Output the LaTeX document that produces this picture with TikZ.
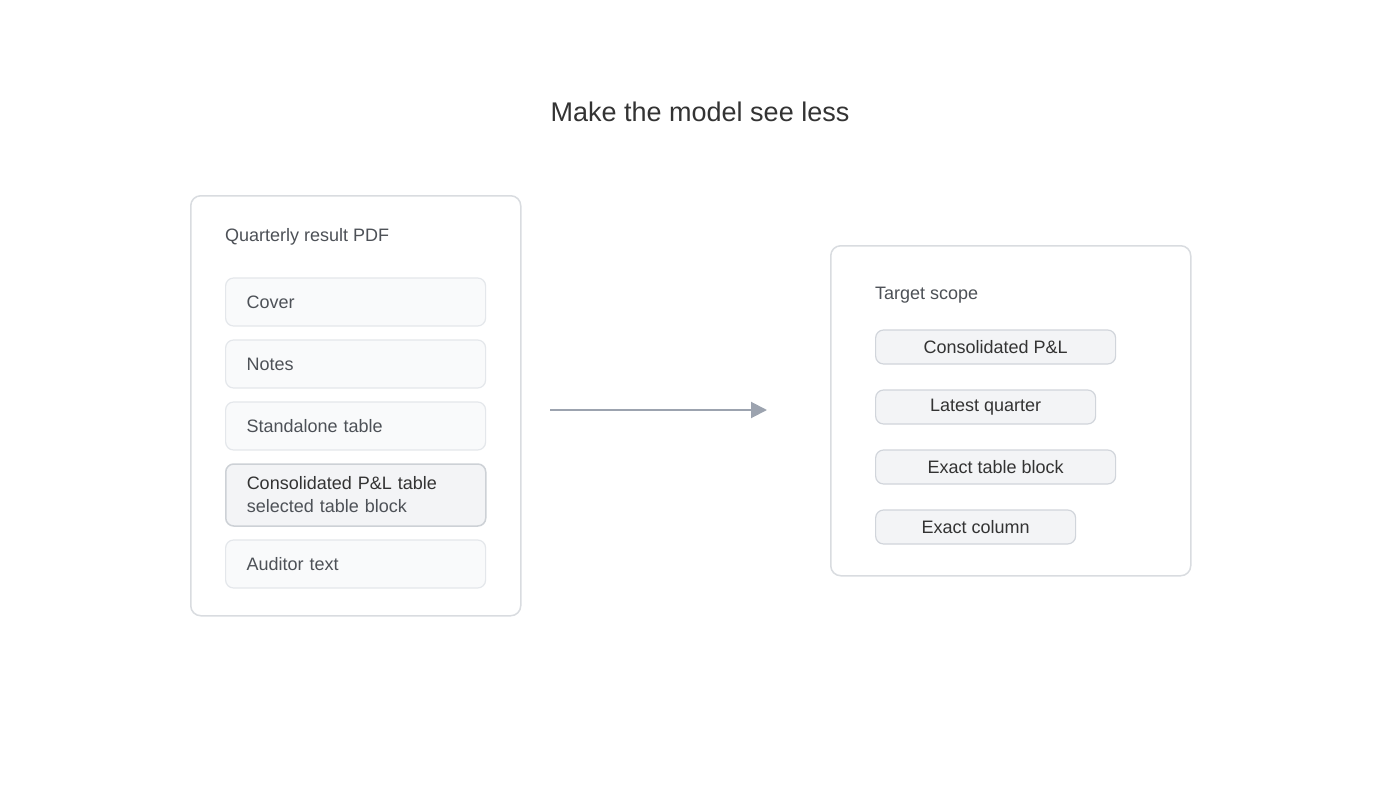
\documentclass[tikz,border=0pt]{standalone}
\usepackage{fontspec}
\setmainfont{Liberation Sans}
\usepackage{tikz}
\usetikzlibrary{positioning,arrows.meta}

\definecolor{panelline}{HTML}{D9DCE0}
\definecolor{itemfill}{HTML}{F9FAFB}
\definecolor{itemline}{HTML}{E4E7EB}
\definecolor{selfill}{HTML}{F3F4F6}
\definecolor{selline}{HTML}{CDD1D6}
\definecolor{pillline}{HTML}{D1D5DB}
\definecolor{arrowgray}{HTML}{9CA3AF}
\definecolor{darktext}{HTML}{333333}
\definecolor{softtext}{HTML}{4D5157}

\begin{document}
\begin{tikzpicture}[x=1pt, y=-1pt,
    every node/.style={font=\fontsize{18}{23}\selectfont},
    panel/.style={draw=panelline, line width=1.5pt, fill=white, rounded corners=10pt, anchor=north west},
    heading/.style={anchor=west, text=softtext, inner sep=0pt},
    pageitem/.style={draw=itemline, line width=1.2pt, fill=itemfill, rounded corners=8pt, anchor=west,
        minimum height=48pt, text width=218pt, inner xsep=21pt, align=left, text=softtext},
    pickeditem/.style={pageitem, draw=selline, fill=selfill, line width=1.5pt, minimum height=62pt, text=darktext},
    scopepill/.style={draw=pillline, line width=1.2pt, fill=selfill, rounded corners=8pt, anchor=west,
        minimum height=34pt, inner xsep=0pt, text=darktext},
    flow/.style={draw=arrowgray, line width=2pt, -{Triangle[length=16pt,width=16pt]}}]
    \useasboundingbox (0,0) rectangle (1400,800);

    \node[text=darktext, font=\fontsize{27}{31}\selectfont] (title) at (700,112) {Make the model see less};

    % source document
    \node[panel, minimum width=330pt, minimum height=420pt] (source) at (190,195) {};
    \node[heading] (sourcehead) at (225,237) {Quarterly result PDF};
    \node[pageitem] (cover) at (225,302) {Cover};
    \node[pageitem] (notes) at (225,364) {Notes};
    \node[pageitem] (standalone) at (225,426) {Standalone table};
    \node[pickeditem] (consol) at (225,495) {Consolidated P\&L table\\{\color{softtext}selected table block}};
    \node[pageitem] (auditor) at (225,564) {Auditor text};

    % narrowed scope
    \node[panel, minimum width=360pt, minimum height=330pt] (target) at (830,245) {};
    \node[heading] (targethead) at (875,295) {Target scope};
    \node[scopepill, minimum width=240pt] (pl) at (875,347) {Consolidated P\&L};
    \node[scopepill, minimum width=220pt] (quarter) at (875,407) {Latest quarter};
    \node[scopepill, minimum width=240pt] (block) at (875,467) {Exact table block};
    \node[scopepill, minimum width=200pt] (column) at (875,527) {Exact column};

    \coordinate (flowstart) at (550,410);
    \coordinate (flowend) at (767,410);
    \draw[flow] (flowstart) -- (flowend);
\end{tikzpicture}
\end{document}
